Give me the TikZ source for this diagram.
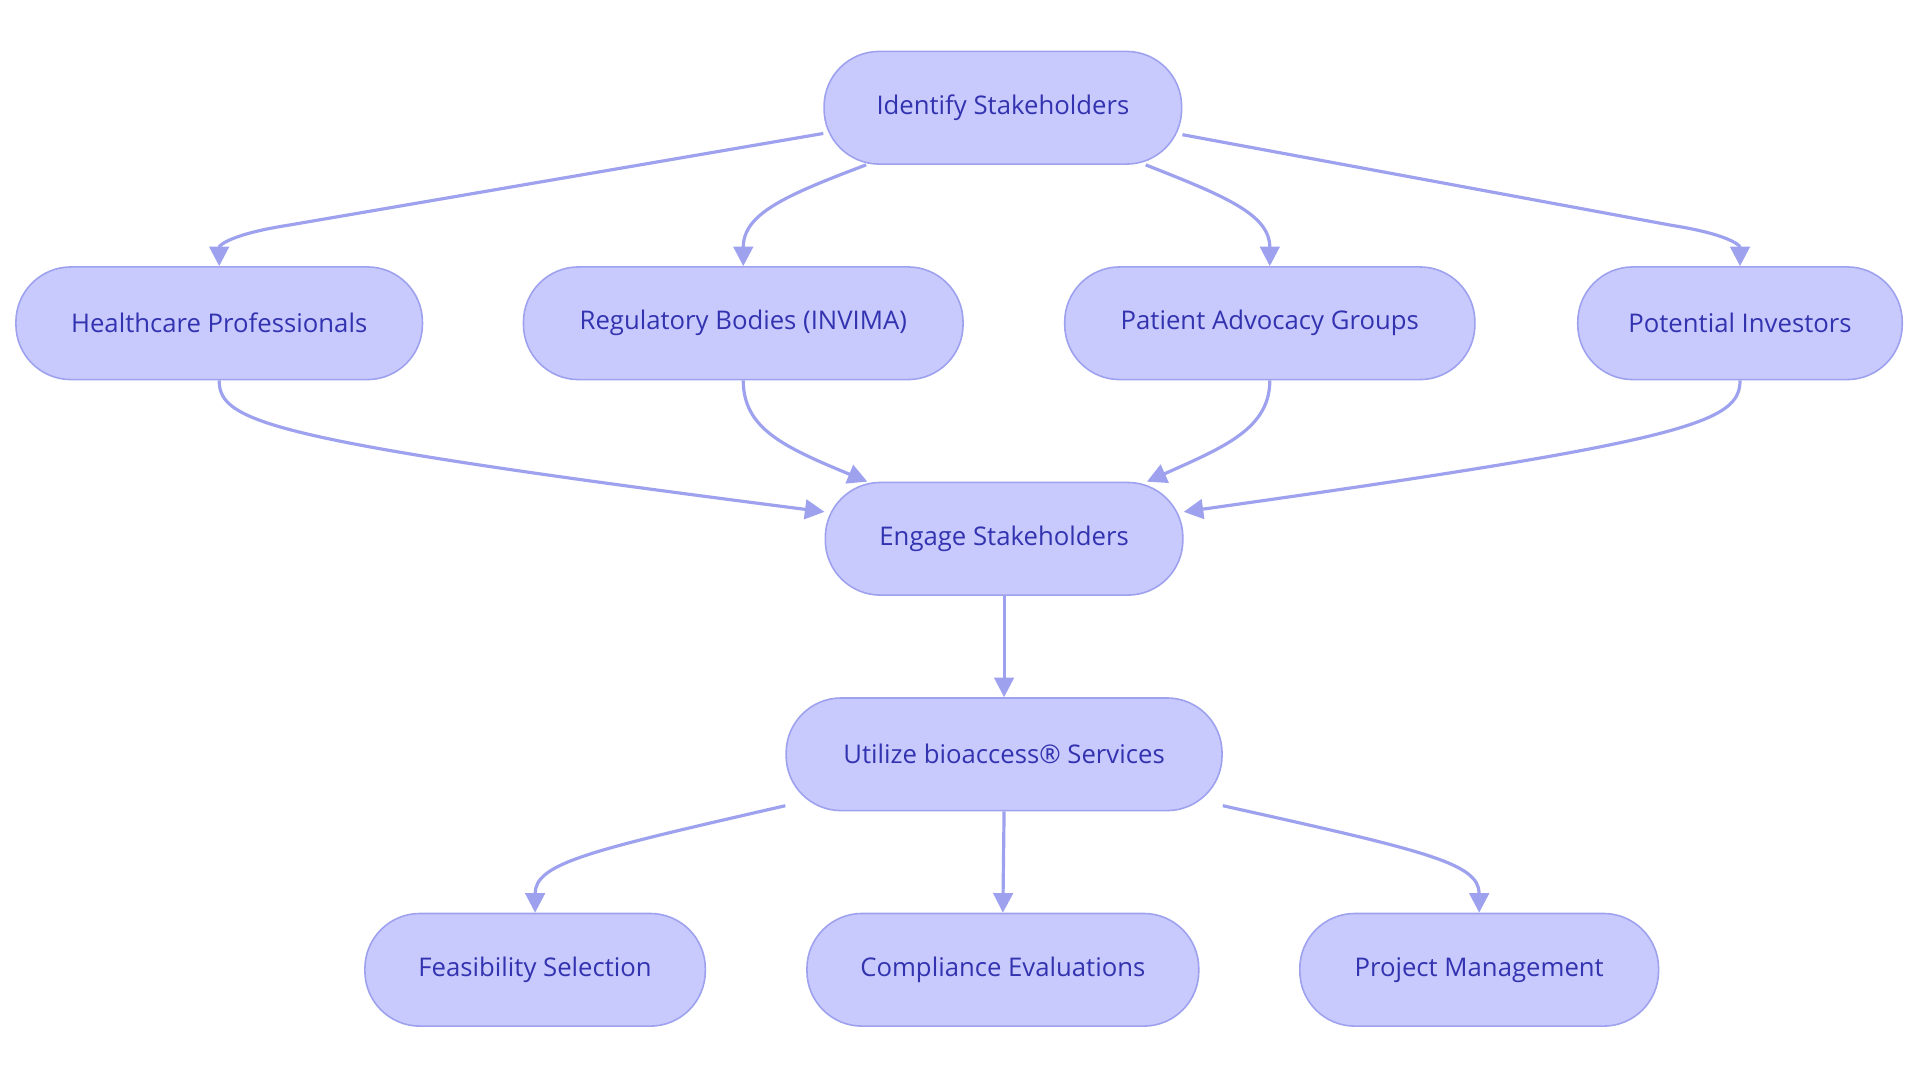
\documentclass[tikz,border=0pt]{standalone}
\usepackage{fontspec}
\setmainfont{Open Sans}
\usetikzlibrary{calc,arrows.meta}
\definecolor{fillc}{HTML}{C8CAFE}
\definecolor{linec}{HTML}{9EA2EE}
\definecolor{textc}{HTML}{3333B0}
\tikzset{
  box/.style={draw=linec,fill=fillc,line width=1.3pt,rounded corners=45pt,minimum height=92pt,text=textc,font=\fontsize{21}{25}\selectfont,inner sep=0pt},
  edge/.style={draw=linec,line width=2.6pt,-{Triangle[length=16pt,width=16pt]}}
}
\begin{document}
\begin{tikzpicture}[x=1pt,y=-1pt]
\useasboundingbox (0,0) rectangle (1568,885);
\node[box,minimum width=292pt] (id) at (819,88) {Identify Stakeholders};
\node[box,minimum width=332pt] (hc) at (179,264) {Healthcare Professionals};
\node[box,minimum width=359pt] (rb) at (607,264) {Regulatory Bodies (INVIMA)};
\node[box,minimum width=335pt] (pa) at (1037,264) {Patient Advocacy Groups};
\node[box,minimum width=265pt] (pi) at (1421,264) {Potential Investors};
\node[box,minimum width=292pt] (en) at (820,440) {Engage Stakeholders};
\node[box,minimum width=356pt] (ut) at (820,616) {Utilize bioaccess® Services};
\node[box,minimum width=278pt] (fs) at (437,792) {Feasibility Selection};
\node[box,minimum width=320pt] (ce) at (819,792) {Compliance Evaluations};
\node[box,minimum width=293pt] (pm) at (1208,792) {Project Management};

\draw[edge] ($(id.west)+(0,21)$) -- (235,184) .. controls (190,191) and (179,200) .. (hc.north);
\draw[edge] ($(id.south west)+(35,0)$) .. controls (640,160) and (607,175) .. (rb.north);
\draw[edge] ($(id.south east)+(-30,0)$) .. controls (1000,160) and (1037,175) .. (pa.north);
\draw[edge] ($(id.east)+(0,22)$) -- (1365,184) .. controls (1410,191) and (1421,200) .. (pi.north);

\draw[edge] (hc.south) .. controls (179,345) and (220,360) .. ($(en.west)+(0,-22)$);
\draw[edge] (rb.south) .. controls (607,350) and (640,365) .. ($(en.north west)+(35,0)$);
\draw[edge] (pa.south) .. controls (1037,350) and (1000,365) .. ($(en.north east)+(-30,0)$);
\draw[edge] (pi.south) .. controls (1421,345) and (1380,360) .. ($(en.east)+(0,-22)$);

\draw[edge] (en.south) -- (ut.north);
\draw[edge] ($(ut.west)+(0,42)$) .. controls (480,695) and (437,705) .. (fs.north);
\draw[edge] (ut.south) -- (ce.north);
\draw[edge] ($(ut.east)+(0,42)$) .. controls (1165,695) and (1208,705) .. (pm.north);
\end{tikzpicture}
\end{document}
